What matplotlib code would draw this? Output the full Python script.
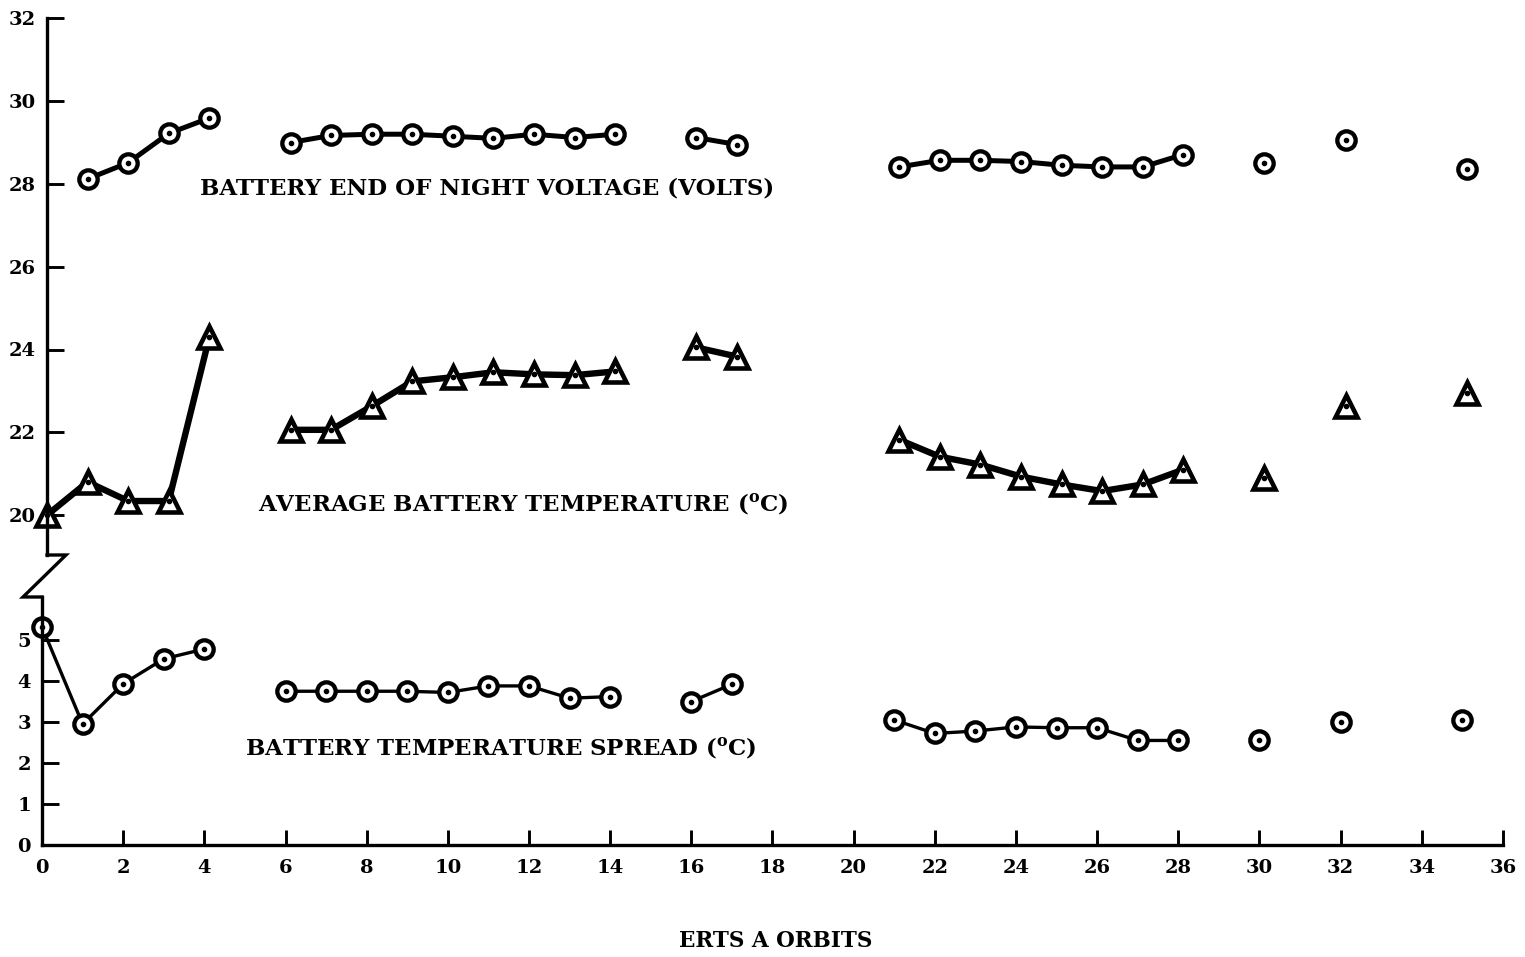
import numpy as np
import matplotlib
matplotlib.use("Agg")
import matplotlib.pyplot as plt
from matplotlib.lines import Line2D

nan = np.nan
orbits = [0, 1, 2, 3, 4, 5, 6, 7, 8, 9, 10, 11, 12, 13, 14, 15, 16, 17,
          18, 19, 20, 21, 22, 23, 24, 25, 26, 27, 28, 29, 30, 31, 32, 33, 34, 35]

voltage = [nan, 28.12, 28.51, 29.22, 29.59, nan, 29.0, 29.17, 29.2, 29.2, 29.15, 29.1,
           29.2, 29.12, 29.2, nan, 29.12, 28.95, nan, nan, nan, 28.41, 28.57, 28.57,
           28.54, 28.45, 28.41, 28.41, 28.71, nan, 28.5, nan, 29.05, nan, nan, 28.35]

avg_temp = [20.0, 20.8, 20.34, 20.34, 24.3, nan, 22.06, 22.06, 22.63, 23.23, 23.33, 23.45,
            23.4, 23.38, 23.47, nan, 24.05, 23.83, nan, nan, nan, 21.82, 21.41, 21.22,
            20.93, 20.74, 20.58, 20.74, 21.1, nan, 20.89, nan, 22.63, nan, nan, 22.95]

spread = [5.32, 2.95, 3.93, 4.54, 4.78, nan, 3.75, 3.75, 3.75, 3.75, 3.72, 3.88,
          3.88, 3.58, 3.62, nan, 3.5, 3.92, nan, nan, nan, 3.05, 2.72, 2.78,
          2.88, 2.86, 2.86, 2.55, 2.55, nan, 2.57, nan, 3.0, nan, nan, 3.05]

x_ticks = [0, 2, 4, 6, 8, 10, 12, 14, 16, 18, 20, 22, 24, 26, 28, 30, 32, 34, 36]
upper_ticks = [20, 22, 24, 26, 28, 30, 32]
lower_ticks = [0, 1, 2, 3, 4, 5]

W, H = 1525, 957
plt.rcParams['font.family'] = ['DejaVu Serif']
plt.rcParams['font.weight'] = 'bold'
plt.rcParams['mathtext.fontset'] = 'dejavuserif'

fig = plt.figure(figsize=(W / 100, H / 100), dpi=100)
fig.patch.set_facecolor('white')


def rect(l, r, b, t):
    return [l / W, 1 - b / H, (r - l) / W, (b - t) / H]


ax_lo = fig.add_axes(rect(42, 1503, 845, 597))
ax_up = fig.add_axes(rect(47, 1508, 555, 18.3))

for ax in (ax_lo, ax_up):
    ax.set_facecolor('none')
    ax.set_xlim(0, 36)
    for s in ('top', 'right'):
        ax.spines[s].set_visible(False)
    ax.spines['left'].set_linewidth(2.4)
    ax.spines['bottom'].set_linewidth(2.4)
    ax.tick_params(direction='in', width=2.1, labelsize=14)

ax_lo.set_ylim(0, (845 - 597) / 41.0)
ax_up.set_ylim(32 - (555 - 18.3) / 41.4, 32)

ax_up.spines['bottom'].set_visible(False)
ax_up.set_xticks([])
ax_up.set_yticks(upper_ticks)
ax_up.set_yticklabels([str(t) for t in upper_ticks])
ax_up.tick_params(axis='y', length=12, pad=8)

ax_lo.set_xticks(x_ticks)
ax_lo.set_xticklabels([str(t) for t in x_ticks])
ax_lo.set_yticks(lower_ticks)
ax_lo.set_yticklabels([str(t) for t in lower_ticks])
ax_lo.tick_params(axis='y', length=12, pad=8)
ax_lo.tick_params(axis='x', length=11, pad=10)
ax_lo.spines['left'].set_bounds(0, (845 - 597) / 41.0)

circ = dict(marker='o', ms=13.2, mew=3.1, mfc='white', mec='black', color='black', clip_on=False)
tri = dict(marker='^', ms=15.5, mew=3.3, mfc='white', mec='black', color='black', clip_on=False)
dot = dict(marker='o', ms=3.0, color='black', linestyle='none', clip_on=False)

ax_up.plot(orbits, voltage, lw=3.6, **circ)
ax_up.plot(orbits, voltage, **dot)
ax_up.plot(orbits, avg_temp, lw=4.6, **tri)
ax_up.plot(orbits, avg_temp, **dot)
ax_lo.plot(orbits, spread, lw=2.4, **circ)
ax_lo.plot(orbits, spread, **dot)

# axis break zig-zag
zx = [47, 66, 23, 42]
zy = [555, 555, 597, 597]
fig.add_artist(Line2D([x / W for x in zx], [1 - y / H for y in zy],
                      transform=fig.transFigure, color='black', lw=2.4,
                      solid_joinstyle='miter'))

fs = 16.5
fig.text(200 / W, 1 - 188 / H, "BATTERY END OF NIGHT VOLTAGE (VOLTS)",
         fontsize=fs, fontweight='bold', va='center', ha='left')
fig.text(258 / W, 1 - 503 / H, r"AVERAGE BATTERY TEMPERATURE ($^{\mathbf{o}}$C)",
         fontsize=fs, fontweight='bold', va='center', ha='left')
fig.text(245 / W, 1 - 747 / H, r"BATTERY TEMPERATURE SPREAD ($^{\mathbf{o}}$C)",
         fontsize=fs, fontweight='bold', va='center', ha='left')
fig.text(776 / W, 1 - 941 / H, "ERTS A ORBITS",
         fontsize=15.5, fontweight='bold', va='center', ha='center')

fig.savefig("out.png", dpi=100, facecolor='white')
